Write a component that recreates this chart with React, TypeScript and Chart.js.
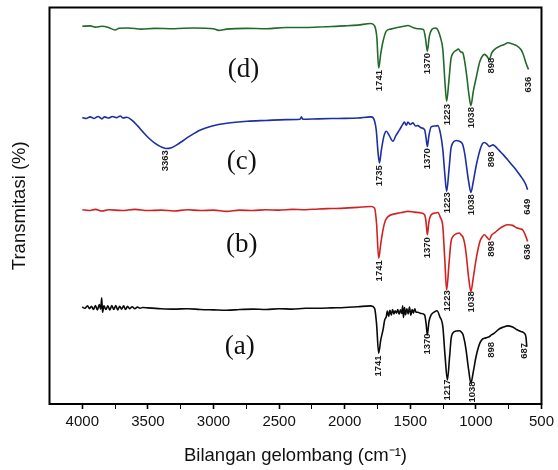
import React, { useEffect, useRef } from 'react';
import { Chart, registerables } from 'chart.js';

Chart.register(...registerables);

// ---- Data (wavenumber cm^-1, transmittance in arbitrary offset units) ----
const waveD = [4000,3940,3900,3850,3800,3750,3720,3650,3550,3450,3300,3150,3000,2960,2900,2750,2600,2450,2300,2150,2000,1900,1800,1772,1755,1741,1725,1708,1683,1650,1600,1550,1518,1480,1442,1400,1385,1370,1355,1336,1310,1296,1270,1252,1235,1223,1205,1190,1176,1150,1133,1115,1100,1085,1070,1052,1038,1020,999,970,950,935,915,898,880,859,820,780,758,720,690,657,640,619,599];
const transD = [94.3,94.4,94.1,94.3,94.0,93.4,93.8,93.9,93.6,93.8,93.7,93.9,93.7,93.3,93.6,93.8,93.7,94.0,94.0,94.2,94.4,94.6,95.0,94.4,91.5,83.9,87.5,90.5,93.1,93.6,94.0,94.3,94.5,94.0,93.7,93.5,91.5,88.1,91.8,93.5,93.9,93.7,91.5,88.5,80,75.6,81,86.2,87.5,88.3,88.6,87.9,87.7,85.5,82,77,74.5,78,81.3,85.5,86.9,87.3,86.8,86.0,87.6,88.5,89.3,89.8,90.2,89.9,89.5,88.5,87.4,85.2,83.5];

const waveC = [4000,3970,3940,3910,3880,3850,3830,3800,3770,3740,3710,3690,3660,3620,3580,3540,3500,3450,3400,3363,3320,3280,3230,3175,3100,3011,2900,2742,2600,2450,2340,2330,2320,2200,2050,1900,1800,1784,1760,1745,1735,1720,1700,1683,1660,1632,1610,1581,1560,1545,1530,1518,1500,1480,1460,1442,1420,1391,1380,1370,1358,1341,1310,1290,1270,1252,1237,1223,1205,1190,1176,1150,1125,1110,1100,1085,1075,1055,1038,1020,999,970,950,935,915,898,885,870,859,820,790,758,720,690,657,640,619,606];
const transC = [71.5,71.3,71.7,71.3,71.8,71.2,71.7,71.4,71.8,71.5,71.9,71.4,71.6,70.8,69.5,68.0,66.6,65.2,64.2,63.8,64.0,64.7,65.8,67.0,68.4,69.4,70.1,70.6,70.8,71.0,71.1,71.7,71.1,71.2,71.3,71.4,71.7,71.5,68.5,62.5,60.2,63.5,67.0,68.1,67.0,65.6,67.0,68.5,69.7,70.4,69.6,70.4,69.8,70.2,69.4,69.5,69.0,68.5,66.5,64.3,67.0,69.2,69.4,69.5,67.5,63.5,57.5,53.1,58.5,63.8,65.2,65.8,65.6,65.3,64.75,62.5,60.2,55.5,52.8,55.5,59.3,63.3,65.0,65.3,64.9,64.3,64.5,64.7,64.5,63.2,62.2,61.0,59.5,58.3,56.8,56.0,54.75,53.5];

const waveB = [4000,3950,3900,3850,3800,3700,3600,3500,3400,3300,3200,3100,3000,2900,2800,2700,2600,2500,2400,2300,2200,2100,2000,1900,1800,1772,1757,1741,1725,1708,1690,1670,1600,1550,1518,1470,1417,1391,1380,1370,1358,1341,1310,1290,1270,1252,1237,1223,1205,1190,1176,1150,1125,1110,1100,1085,1075,1055,1038,1020,999,970,950,935,915,898,880,859,820,790,758,720,690,660,644,630,619,606];
const transB = [48.5,48.3,48.6,48.2,48.5,48.3,48.6,48.3,48.4,48.2,48.5,48.3,48.4,48.1,48.4,48.3,48.5,48.4,48.6,48.5,48.7,48.8,48.9,49.1,49.3,48.9,45,36.4,40,43.5,45.8,46.8,47.6,47.9,48.1,47.9,47.7,47.25,45.5,42.25,45.5,47.25,47.7,47.8,46.5,44.3,36,28.5,35,40.5,41.8,42.5,42.7,42.1,41.8,40,37.7,31.5,28.1,31.5,36,40.5,41.8,42.25,41.6,41.0,42.2,42.7,43.8,44.4,44.75,44.6,44.0,43.7,43.5,42.7,41.8,40.6];

const waveA = [4000,3980,3960,3945,3930,3915,3900,3885,3870,3860,3852,3846,3835,3820,3805,3790,3775,3760,3745,3730,3715,3700,3685,3670,3655,3640,3620,3600,3580,3560,3540,3500,3400,3300,3200,3100,3000,2900,2800,2700,2600,2500,2400,2300,2200,2100,2000,1900,1800,1772,1757,1741,1725,1708,1695,1683,1675,1665,1655,1645,1635,1625,1615,1605,1595,1585,1575,1565,1558,1552,1544,1536,1526,1516,1506,1496,1486,1476,1466,1456,1442,1420,1391,1380,1370,1358,1341,1315,1296,1275,1252,1235,1217,1200,1188,1176,1150,1125,1110,1100,1085,1075,1055,1038,1020,999,970,950,935,915,898,880,859,820,790,758,720,690,657,640,631,619,612];
const transA = [24.2,23.9,24.5,23.8,24.4,23.6,24.6,23.5,24.8,23.7,26.5,22.9,24.5,23.6,24.5,23.5,24.6,23.6,24.6,23.5,24.4,23.7,24.5,23.6,24.4,23.8,24.3,23.8,24.2,23.9,24.1,24.0,23.8,23.7,23.8,23.6,23.5,23.4,23.6,23.7,23.6,23.8,23.7,23.9,23.9,24.0,24.1,24.3,24.5,23.9,20,12.7,16,18.5,21.0,21.8,23.2,21.9,23.4,22.2,23.6,22.5,23.3,22.7,23.6,22.4,23.5,22.6,24.5,21.6,24.1,22.3,23.8,22.5,24.2,22.2,23.6,22.7,23.8,22.9,22.9,22.6,22.25,20.2,17.25,20.5,22.25,23.0,23.3,21.8,19.3,12,6.0,12,16.5,17.7,18.2,18.3,17.9,17.5,15.5,13.5,8.5,5.2,8.0,11.8,15.2,16.2,16.4,16.6,16.8,17.3,17.7,18.8,19.2,19.5,19.2,18.6,18.1,17.9,17.7,16.8,14.3];

// Peak labels: [text, wavenumber position, transmittance level]
const peaksD: [string, number, number][] = [['1741',1735,80.75],['1370',1370,85],['1223',1216,72.25],['1038',1035,71.5],['898',885,84.5],['636',600,79.75]];
const peaksC: [string, number, number][] = [['3363',3363,60.75],['1735',1735,57],['1370',1370,61.25],['1223',1216,50.25],['1038',1035,49.75],['898',885,61.1],['649',606,49.25]];
const peaksB: [string, number, number][] = [['1741',1735,33.25],['1370',1370,39],['1223',1216,25.75],['1038',1035,25.5],['898',885,38.75],['636',606,38]];
const peaksA: [string, number, number][] = [['1741',1741,9.5],['1370',1370,15],['1217',1216,3.5],['1038',1030,3],['898',885,13.5],['687',631,13.25]];

// Curve names: [text, wavenumber, level]
const curveNames: [string, number, number][] = [['(d)',2772,83.5],['(c)',2785,60.5],['(b)',2785,39.75],['(a)',2800,14.25]];

const xTickLabels = [500,1000,1500,2000,2500,3000,3500,4000];

const toPts = (w: number[], t: number[]) => w.map((x, i) => ({ x, y: t[i] }));

const SANS = '"Liberation Sans", Arial, sans-serif';

const annotPlugin = {
  id: 'annot',
  afterDatasetsDraw(chart: any) {
    const { ctx, scales } = chart;
    const xs = scales.x, ys = scales.y;
    ctx.save();
    ctx.fillStyle = '#1a1a1a';
    ctx.font = `bold 9.5px ${SANS}`;
    ctx.textAlign = 'center';
    ctx.textBaseline = 'middle';
    for (const list of [peaksD, peaksC, peaksB, peaksA]) {
      for (const [txt, wn, lv] of list) {
        const x = xs.getPixelForValue(wn);
        const y = ys.getPixelForValue(lv);
        ctx.save();
        ctx.translate(x, y);
        ctx.rotate(-Math.PI / 2);
        ctx.fillText(txt, 0, 0);
        ctx.restore();
      }
    }
    ctx.font = '27px "Liberation Serif", "Times New Roman", serif';
    ctx.fillStyle = '#111';
    for (const [txt, wn, lv] of curveNames) {
      ctx.fillText(txt, xs.getPixelForValue(wn), ys.getPixelForValue(lv));
    }
    // frame
    const a = chart.chartArea;
    ctx.strokeStyle = '#000';
    ctx.lineWidth = 2;
    ctx.strokeRect(a.left, a.top, a.right - a.left, a.bottom - a.top);
    ctx.restore();
  },
};

export default function App() {
  const ref = useRef<HTMLCanvasElement | null>(null);
  useEffect(() => {
    if (!ref.current) return;
    const mk = (label: string, w: number[], t: number[], color: string) => ({
      label,
      data: toPts(w, t),
      borderColor: color,
      borderWidth: 1.6,
      pointRadius: 0,
      fill: false,
      cubicInterpolationMode: 'monotone' as const,
    });
    const chart = new Chart(ref.current, {
      type: 'line',
      data: {
        datasets: [
          mk('(d)', waveD, transD, '#23692a'),
          mk('(c)', waveC, transC, '#1c2fa3'),
          mk('(b)', waveB, transB, '#d02222'),
          mk('(a)', waveA, transA, '#0a0a0a'),
        ],
      },
      options: {
        animation: false,
        responsive: false,
        devicePixelRatio: 1,
        layout: { padding: { top: 7.5, right: 14, left: 0, bottom: 0 } },
        plugins: { legend: { display: false }, tooltip: { enabled: false } },
        scales: {
          x: {
            type: 'linear',
            reverse: true,
            min: 500,
            max: 4250,
            afterFit: (s: any) => { s.height = 66; },
            ticks: {
              stepSize: 250,
              autoSkip: false,
              maxRotation: 0,
              color: '#111',
              padding: 4,
              font: { family: SANS, size: 15 },
              callback: (v: any) => (xTickLabels.includes(Number(v)) ? String(v) : ''),
            },
            grid: {
              drawOnChartArea: false,
              drawTicks: true,
              tickLength: 5,
              tickColor: (c: any) => (c.tick && c.tick.value === 4250 ? 'rgba(0,0,0,0)' : '#000'),
              tickWidth: (c: any) => (c.tick && c.tick.value % 500 === 0 ? 1.6 : 1),
            },
            border: { display: false },
            title: {
              display: true,
              text: 'Bilangan gelombang (cm⁻¹)',
              color: '#111',
              font: { family: SANS, size: 18.5 },
              padding: { top: 0, bottom: 3 },
            },
          },
          y: {
            min: 0,
            max: 99,
            afterFit: (s: any) => { s.width = 49.5; },
            ticks: { display: false },
            grid: { display: false },
            border: { display: false },
            title: {
              display: true,
              text: 'Transmitasi (%)',
              color: '#111',
              font: { family: SANS, size: 18.5 },
              padding: { top: 9, bottom: 0 },
            },
          },
        },
      },
      plugins: [annotPlugin],
    });
    return () => chart.destroy();
  }, []);
  return (
    <div style={{ position: 'fixed', left: 0, top: 0, width: 558, height: 470, background: '#fff' }}>
      <canvas ref={ref} width={558} height={470} />
    </div>
  );
}
